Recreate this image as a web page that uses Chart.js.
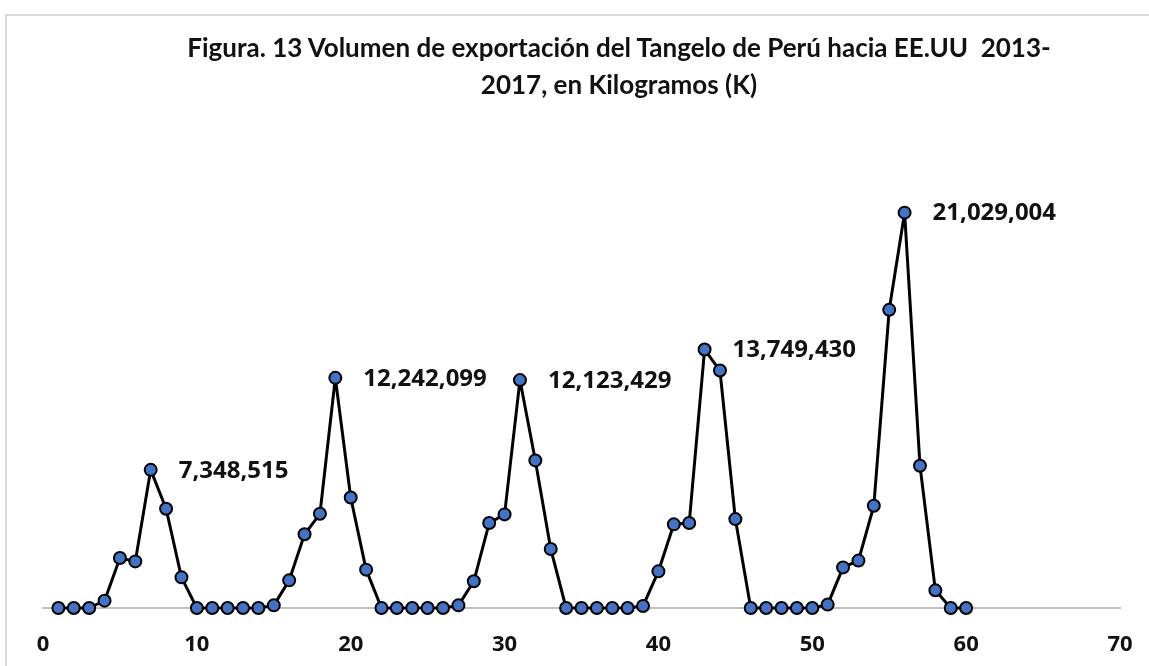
<!DOCTYPE html>
<html>
<head>
<meta charset="utf-8">
<script src="https://cdn.jsdelivr.net/npm/chart.js@4.4.0/dist/chart.umd.min.js"></script>
<style>
  html, body { margin: 0; padding: 0; background: #fff; overflow: hidden; }
  #wrap { position: relative; width: 1149px; height: 666px; overflow: hidden; }
  #frame { position: absolute; left: 5px; top: 14px; width: 1200px; height: 700px;
           border-left: 2px solid #d9d9d9; border-top: 2px solid #d9d9d9; }
  #title { position: absolute; left: 619px; top: 29px; transform: translateX(-50%);
           white-space: nowrap; text-align: center; font: bold 26px Lato, sans-serif;
           line-height: 37px; color: #111; }
  canvas { position: absolute; left: 0; top: 0; }
</style>
</head>
<body>
<div id="wrap">
  <div id="frame"></div>
  <canvas id="myChart" width="1149" height="666"></canvas>
  <div id="title">Figura. 13 Volumen de exportación del Tangelo de Perú hacia EE.UU&nbsp; 2013-<br>2017, en Kilogramos (K)</div>
</div>
<script>
// periodo (1..60) y volumen exportado en kg
var periods = [];
for (var p = 1; p <= 60; p++) periods.push(p);

var volumes = [
  0, 0, 0, 390000, 2660000, 2480000, 7348515, 5280000, 1630000, 0,
  0, 0, 0, 0, 140000, 1470000, 3920000, 5010000, 12242099, 5880000,
  2040000, 0, 0, 0, 0, 0, 140000, 1420000, 4520000, 4980000,
  12123429, 7850000, 3140000, 0, 0, 0, 0, 0, 110000, 1950000,
  4450000, 4520000, 13749430, 12630000, 4730000, 0, 0, 0, 0, 0,
  180000, 2160000, 2520000, 5440000, 15860000, 21029004, 7570000, 940000, 0, 0,
];

// periodos con etiqueta de valor (picos)
var labeledPeriods = [7, 19, 31, 43, 56];

var xTicks = [0, 10, 20, 30, 40, 50, 60, 70];

var points = periods.map(function (x, i) {
  return { x: x, y: volumes[i] };
});

// etiquetas de los picos
var peakLabels = {
  id: "peakLabels",
  afterDatasetsDraw: function (chart) {
    var ctx = chart.ctx;
    var meta = chart.getDatasetMeta(0);
    ctx.save();
    ctx.font = "bold 24px 'Open Sans'";
    ctx.fillStyle = "#111";
    ctx.textBaseline = "middle";
    ctx.textAlign = "left";
    labeledPeriods.forEach(function (per) {
      var i = periods.indexOf(per);
      var pt = meta.data[i];
      ctx.fillText(volumes[i].toLocaleString("en-US"), pt.x + 28, pt.y + 1);
    });
    ctx.restore();
  },
};

new Chart(document.getElementById("myChart"), {
  type: "line",
  data: {
    datasets: [
      {
        data: points,
        borderColor: "#000",
        borderWidth: 3,
        borderJoinStyle: "round",
        pointRadius: 6,
        pointBorderWidth: 2,
        pointBorderColor: "#000",
        pointBackgroundColor: "#4472c4",
        tension: 0,
        clip: false,
      },
    ],
  },
  options: {
    responsive: false,
    animation: false,
    layout: { padding: { left: 43, right: 29, top: 138, bottom: 0 } },
    plugins: {
      legend: { display: false },
      tooltip: { enabled: false },
      title: { display: false },
    },
    scales: {
      x: {
        type: "linear",
        min: 0,
        max: 70,
        afterBuildTicks: function (axis) {
          axis.ticks = xTicks.map(function (v) { return { value: v }; });
        },
        afterFit: function (axis) {
          axis.height = 58;
          // el padding de las etiquetas no debe estrechar el área del gráfico
          axis.paddingLeft = 0;
          axis.paddingRight = 0;
        },
        grid: { display: false, drawTicks: false },
        border: { display: true, color: "#bfbfbf", width: 2 },
        ticks: {
          padding: 24,
          color: "#111",
          maxRotation: 0,
          font: { family: "'Open Sans'", size: 22, weight: "bold" },
        },
      },
      y: {
        display: false,
        min: 0,
        max: 25000000,
      },
    },
  },
  plugins: [peakLabels],
});
</script>
</body>
</html>
